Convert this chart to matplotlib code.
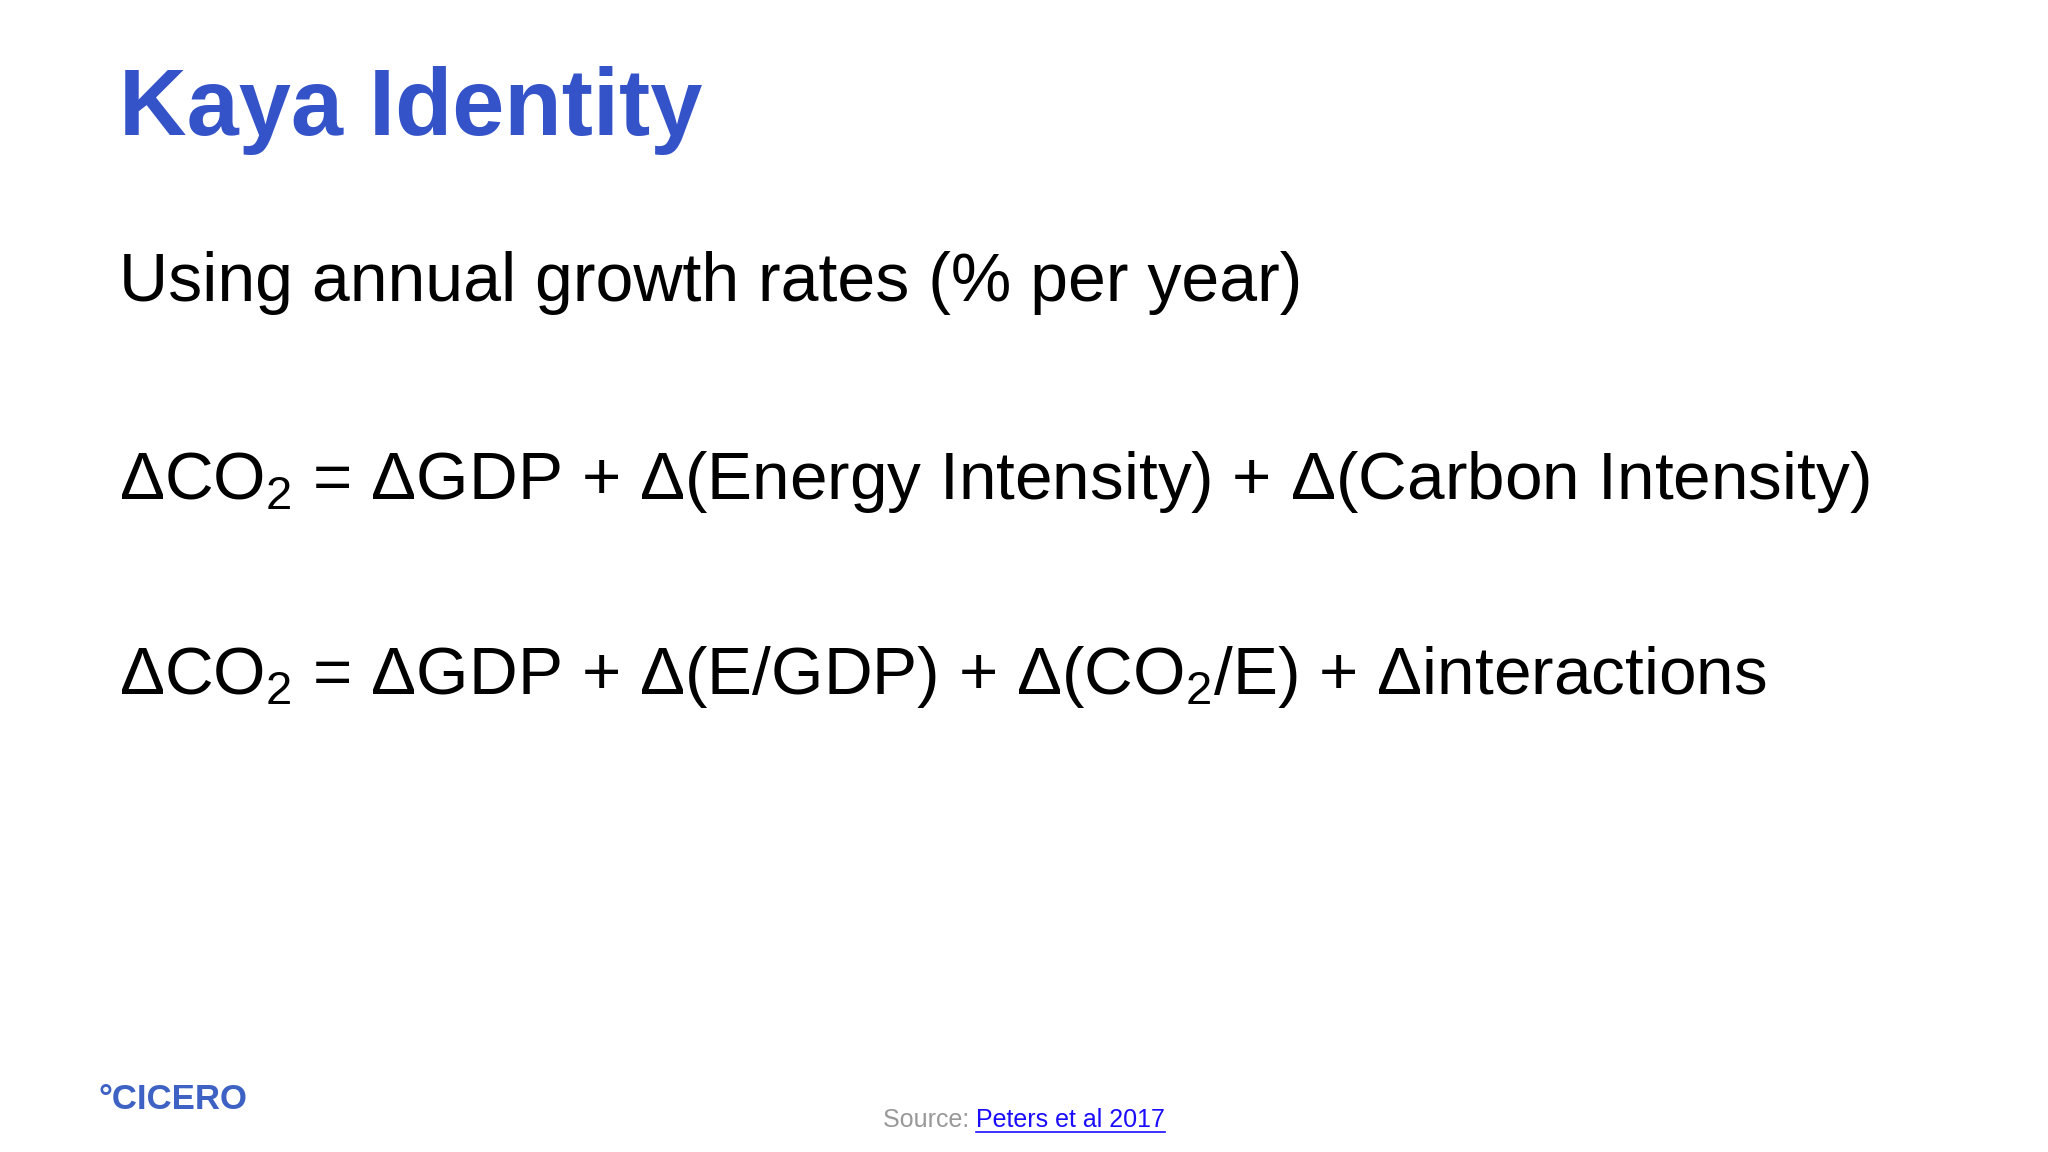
import matplotlib.pyplot as plt

plt.rcParams['font.family'] = ['Liberation Sans', 'DejaVu Sans']
plt.rcParams['mathtext.fontset'] = 'custom'
plt.rcParams['mathtext.rm'] = 'Liberation Sans'
plt.rcParams['mathtext.it'] = 'Liberation Sans'

title = "Kaya Identity"
subtitle = "Using annual growth rates (% per year)"
equations = [
    r"$\Delta$CO$_2$ = $\Delta$GDP + $\Delta$(Energy Intensity) + $\Delta$(Carbon Intensity)",
    r"$\Delta$CO$_2$ = $\Delta$GDP + $\Delta$(E/GDP) + $\Delta$(CO$_2$/E) + $\Delta$interactions",
]
eq_y = [0.567, 0.398]

fig = plt.figure(figsize=(20.48, 11.52), dpi=100)
fig.patch.set_facecolor('white')

fig.text(0.058, 0.883, title, fontsize=67.5, fontweight='bold', color='#3553c9', va='baseline')
fig.text(0.058, 0.739, subtitle, fontsize=49, color='black', va='baseline')
for eq, y in zip(equations, eq_y):
    fig.text(0.058, y, eq, fontsize=48.6, color='black', va='baseline')

fig.text(0.048, 0.037, "°CICERO", fontsize=25, fontweight='bold', color='#3d62c4', va='baseline')
src = fig.text(0.431, 0.022, "Source: ", fontsize=18, color='#999999', va='baseline')
fig.canvas.draw()
bb = src.get_window_extent().transformed(fig.transFigure.inverted())
link = fig.text(bb.x1, 0.022, "Peters et al 2017", fontsize=18, color='#1a0dff', va='baseline')
fig.canvas.draw()
lb = link.get_window_extent().transformed(fig.transFigure.inverted())
fig.add_artist(plt.Line2D([lb.x0, lb.x1], [0.017, 0.017], color='#1a0dff', lw=1.2))

fig.savefig('out.png', dpi=100)
